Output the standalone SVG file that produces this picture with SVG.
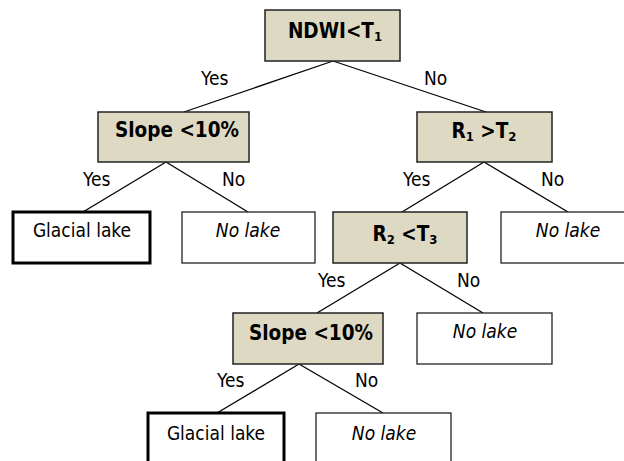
<svg xmlns="http://www.w3.org/2000/svg" width="624" height="461" viewBox="0 0 624 461">
<style>
.cond{fill:#ddd9c3;stroke:#222;stroke-width:1.5}
.leaf{fill:#fff;stroke:#222;stroke-width:1.3}
.lake{fill:#fff;stroke:#000;stroke-width:3}
text{font-family:"DejaVu Sans Condensed","DejaVu Sans","Liberation Sans",sans-serif;font-stretch:condensed;font-size:19px;fill:#000}
.b{font-weight:bold;font-size:20.5px;text-anchor:middle}
.i{font-style:italic;text-anchor:middle}
.n{text-anchor:middle}
.sub{font-size:13px}
.c line{stroke:#000;stroke-width:1.3}
</style>
<rect width="624" height="461" fill="#fff"/>
<g class="c" id="connectors">
<line x1="333" y1="61" x2="184" y2="112"/>
<line x1="333" y1="61" x2="486" y2="112"/>
<line x1="166" y1="162" x2="83" y2="212"/>
<line x1="166" y1="162" x2="248" y2="212"/>
<line x1="484" y1="162" x2="402" y2="212"/>
<line x1="484" y1="162" x2="568" y2="212"/>
<line x1="400" y1="263" x2="317" y2="313"/>
<line x1="400" y1="263" x2="483" y2="313"/>
<line x1="299" y1="364" x2="217" y2="413"/>
<line x1="299" y1="364" x2="383" y2="413"/>
<text x="201" y="85">Yes</text>
<text x="424" y="85">No</text>
<text x="83" y="186">Yes</text>
<text x="222" y="186">No</text>
<text x="403" y="186">Yes</text>
<text x="541" y="186">No</text>
<text x="318" y="287">Yes</text>
<text x="457" y="287">No</text>
<text x="217" y="387">Yes</text>
<text x="355" y="387">No</text>
</g>
<g id="root"><rect class="cond" x="265" y="10" width="135" height="51"/><text class="b" x="335" y="38">NDWI&lt;T<tspan class="sub" dy="3">1</tspan></text></g>
<g id="slope1"><rect class="cond" x="98" y="112" width="151" height="50"/><text class="b" x="177" y="137">Slope &lt;10%</text></g>
<g id="r1"><rect class="cond" x="417" y="112" width="135" height="50"/><text class="b" x="484" y="138">R<tspan class="sub" dy="3">1</tspan><tspan dy="-3"> &gt;T</tspan><tspan class="sub" dy="3">2</tspan></text></g>
<g id="glacial1"><rect class="lake" x="13" y="212" width="137" height="51"/><text class="n" x="82" y="237">Glacial lake</text></g>
<g id="nolake1"><rect class="leaf" x="182" y="212" width="133" height="51"/><text class="i" x="248" y="237">No lake</text></g>
<g id="r2"><rect class="cond" x="333" y="212" width="134" height="51"/><text class="b" x="405" y="241">R<tspan class="sub" dy="3">2</tspan><tspan dy="-3"> &lt;T</tspan><tspan class="sub" dy="3">3</tspan></text></g>
<g id="nolake2"><rect class="leaf" x="501" y="212" width="135" height="51"/><text class="i" x="568" y="237">No lake</text></g>
<g id="slope2"><rect class="cond" x="233" y="313" width="150" height="51"/><text class="b" x="311" y="340">Slope &lt;10%</text></g>
<g id="nolake3"><rect class="leaf" x="417" y="313" width="135" height="51"/><text class="i" x="485" y="338">No lake</text></g>
<g id="glacial2"><rect class="lake" x="148" y="413" width="136" height="51"/><text class="n" x="216" y="440">Glacial lake</text></g>
<g id="nolake4"><rect class="leaf" x="316" y="413" width="135" height="51"/><text class="i" x="384" y="440">No lake</text></g>
</svg>
